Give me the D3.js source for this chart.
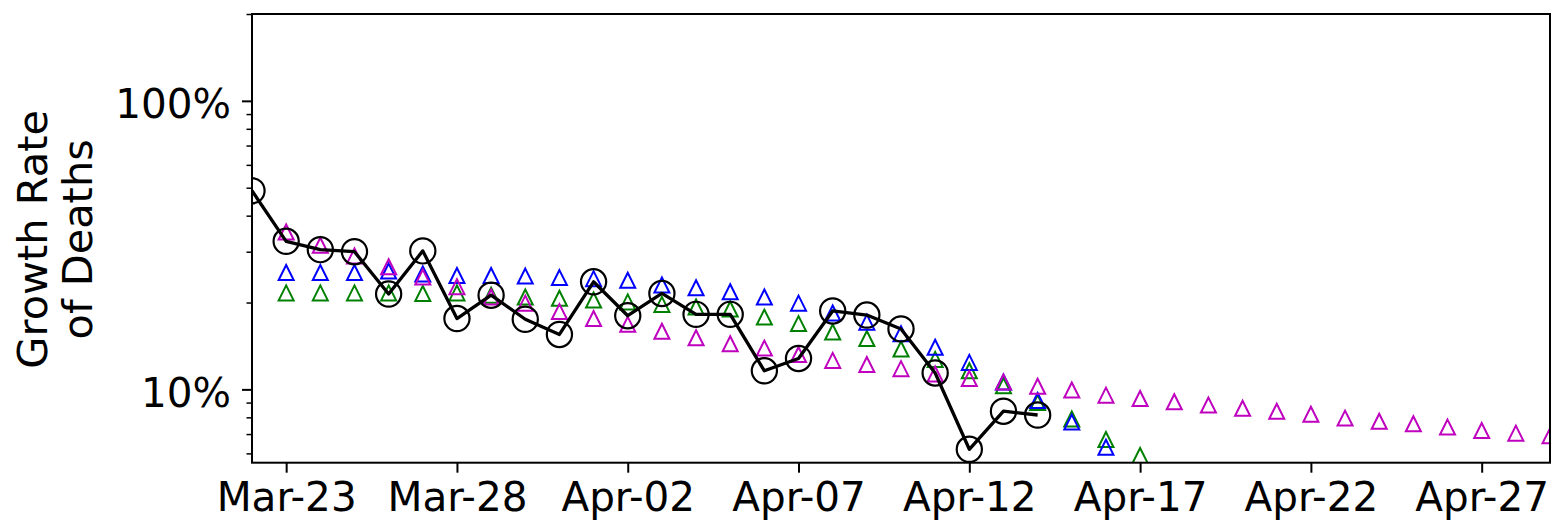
<!DOCTYPE html>
<html><head><meta charset="utf-8">
<script src="https://cdn.jsdelivr.net/npm/d3@7"></script>
<style>body{margin:0;background:#fff}svg{display:block}</style>
</head><body><svg id="chart" width="1553" height="522"></svg>
<script>
// ---- data (growth rate of deaths, %) ----
const domainStart = "2020-03-22";
const domainEnd = "2020-04-29";

const observedStart = "2020-03-22";
const observed = [48.8, 32.6, 30.5, 30.0, 21.4, 30.2, 17.6, 21.2, 17.5, 15.5,
  23.6, 18.0, 21.5, 18.2, 18.2, 11.6, 12.8, 18.7, 18.1, 16.2, 11.4, 6.2, 8.4, 8.15];

const blueStart = "2020-03-23";
const blueSeries = [25.4, 25.4, 25.4, 25.7, 25.1, 24.8, 24.8, 24.7, 24.4, 24.2,
  23.9, 23.0, 22.5, 21.8, 20.9, 19.9, 18.4, 17.1, 15.6, 14.0, 12.4, 10.6, 9.15, 7.7, 6.3];

const greenStart = "2020-03-23";
const greenSeries = [21.6, 21.6, 21.6, 21.6, 21.5, 21.6, 21.2, 20.9, 20.7, 20.4,
  20.1, 19.7, 19.3, 19.0, 17.8, 16.9, 15.8, 15.0, 13.8, 12.7, 11.6, 10.3, 9.0, 7.9, 6.7, 5.9];

const magentaStart = "2020-03-23";
const magentaSeries = [35.1, 31.6, 29.0, 26.6, 24.5, 22.7, 20.9, 19.9, 18.6, 17.6,
  16.8, 15.9, 15.1, 14.4, 13.9, 13.2, 12.6, 12.2, 11.8, 11.3, 10.9, 10.6, 10.25,
  9.95, 9.55, 9.3, 9.06, 8.82, 8.6, 8.4, 8.2, 7.95, 7.75, 7.6, 7.4, 7.2, 7.05, 6.9];

const xTickDates = ["2020-03-23", "2020-03-28", "2020-04-02", "2020-04-07",
  "2020-04-12", "2020-04-17", "2020-04-22", "2020-04-27"];
const xTickLabels = ["Mar-23", "Mar-28", "Apr-02", "Apr-07", "Apr-12", "Apr-17", "Apr-22", "Apr-27"];
const yDomain = [5.57, 200];
const yTickValues = [10, 100];
const yTickLabels = ["10%", "100%"];
const yMinorTicks = [6, 7, 8, 9, 20, 30, 40, 50, 60, 70, 80, 90, 200];
const yLabelLines = ["Growth Rate", "of Deaths"];

// ---- layout ----
const parse = d3.utcParse("%Y-%m-%d");
const L = 252, R = 1550, T = 14, B = 462.7;
const FONT = "'DejaVu Sans', sans-serif";

const x = d3.scaleUtc().domain([parse(domainStart), parse(domainEnd)]).range([L, R]);
const y = d3.scaleLog().domain(yDomain).range([B, T]);

function toPoints(start, vals) {
  const s = parse(start);
  return vals.map((v, i) => ({ date: d3.utcDay.offset(s, i), v }));
}

const svg = d3.select("#chart");
svg.append("defs").append("clipPath").attr("id", "plotclip")
  .append("rect").attr("x", L).attr("y", T).attr("width", R - L).attr("height", B - T);

const plot = svg.append("g").attr("clip-path", "url(#plotclip)");

const tri = d3.symbol().type({
  draw(ctx, size) {
    const r = 7.5;
    ctx.moveTo(0, -r); ctx.lineTo(r, r); ctx.lineTo(-r, r); ctx.closePath();
  }
}).size(1)();

function drawTriangles(data, color) {
  plot.append("g").selectAll("path").data(data).join("path")
    .attr("d", tri)
    .attr("transform", d => `translate(${x(d.date)},${y(d.v)})`)
    .attr("fill", "none").attr("stroke", color).attr("stroke-width", 2);
}

drawTriangles(toPoints(greenStart, greenSeries), "#008000");
drawTriangles(toPoints(blueStart, blueSeries), "#0000ff");
drawTriangles(toPoints(magentaStart, magentaSeries), "#bf00bf");

const obs = toPoints(observedStart, observed);
plot.append("path").datum(obs)
  .attr("d", d3.line().x(d => x(d.date)).y(d => y(d.v)))
  .attr("fill", "none").attr("stroke", "#000").attr("stroke-width", 3.3)
  .attr("stroke-linejoin", "round");
plot.append("g").selectAll("circle").data(obs).join("circle")
  .attr("cx", d => x(d.date)).attr("cy", d => y(d.v)).attr("r", 12.6)
  .attr("fill", "none").attr("stroke", "#000").attr("stroke-width", 2.2);

// ---- axes ----
const xAxis = d3.axisBottom(x)
  .tickValues(xTickDates.map(parse))
  .tickFormat((d, i) => xTickLabels[i])
  .tickSize(10).tickPadding(10);
const gx = svg.append("g").attr("transform", `translate(0,${B})`).call(xAxis);
gx.select(".domain").remove();
gx.selectAll(".tick line").attr("stroke", "#000").attr("stroke-width", 2);
gx.selectAll(".tick text").attr("font-family", FONT).attr("font-size", 40.5)
  .attr("fill", "#000");

const yAxis = d3.axisLeft(y).tickValues(yTickValues)
  .tickFormat((d, i) => yTickLabels[i]).tickSize(10).tickPadding(11);
const gy = svg.append("g").attr("transform", `translate(${L},0)`).call(yAxis);
gy.select(".domain").remove();
gy.selectAll(".tick line").attr("stroke", "#000").attr("stroke-width", 2);
gy.selectAll(".tick text").attr("font-family", FONT).attr("font-size", 40.5)
  .attr("fill", "#000").attr("dy", "0.42em");

const yMinor = d3.axisLeft(y).tickValues(yMinorTicks).tickFormat("").tickSize(5.5);
const gym = svg.append("g").attr("transform", `translate(${L},0)`).call(yMinor);
gym.select(".domain").remove();
gym.selectAll(".tick line").attr("stroke", "#000").attr("stroke-width", 1.5);

// frame
svg.append("rect").attr("x", L).attr("y", T).attr("width", R - L).attr("height", B - T)
  .attr("fill", "none").attr("stroke", "#000").attr("stroke-width", 2);

// y label
const yl = svg.append("text").attr("transform", `translate(47,${(T + B) / 2 + 1}) rotate(-90)`)
  .attr("text-anchor", "middle").attr("font-family", FONT).attr("font-size", 41.5).attr("fill", "#000");
yLabelLines.forEach((t, i) => {
  yl.append("tspan").attr("x", 0).attr("y", i * 45).text(t);
});
</script></body></html>
